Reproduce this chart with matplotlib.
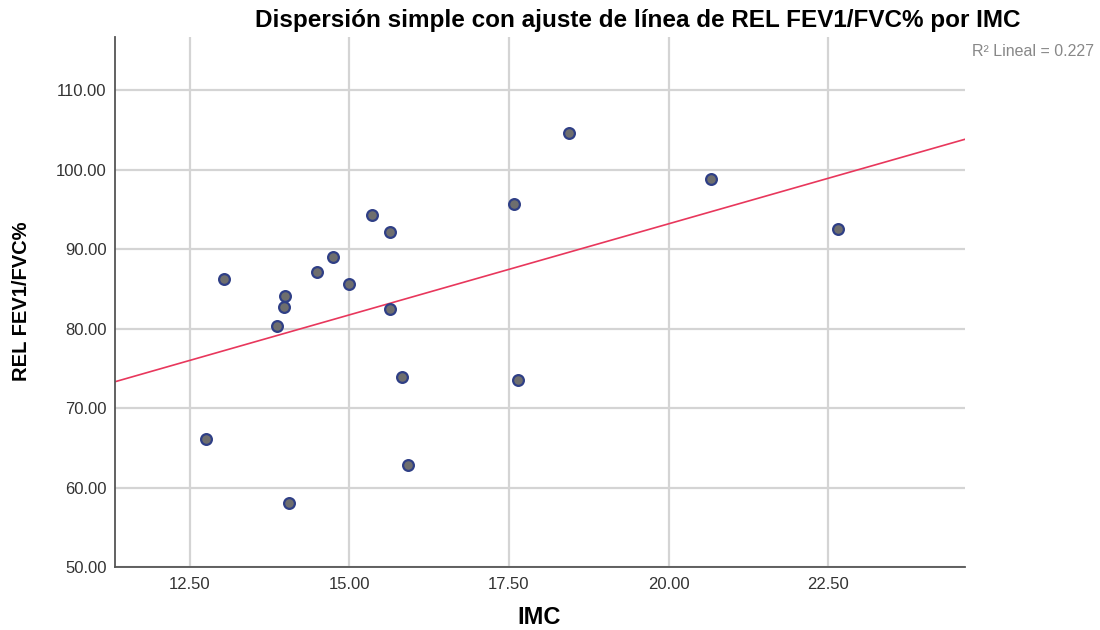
import numpy as np
import matplotlib
matplotlib.use("Agg")
import matplotlib.pyplot as plt

# IMC vs REL FEV1/FVC%
imc = [13.04, 12.76, 14.05, 13.87, 13.99, 13.97, 14.49, 14.74, 15.00, 15.36,
       15.63, 15.64, 15.82, 15.92, 17.58, 17.64, 18.44, 20.66, 22.66]
rel_fev1_fvc = [86.3, 66.1, 58.1, 80.3, 84.1, 82.7, 87.1, 89.0, 85.6, 94.3,
                92.2, 82.5, 73.9, 62.8, 95.7, 73.6, 104.6, 98.8, 92.6]
x_ticks = [12.5, 15.0, 17.5, 20.0, 22.5]
y_ticks = [50, 60, 70, 80, 90, 100, 110]
r2_label = "R\u00b2 Lineal = 0.227"

plt.rcParams["font.family"] = ["Liberation Sans", "DejaVu Sans"]

fig = plt.figure(figsize=(11, 6.3), dpi=100)
ax = fig.add_axes([0.1045, 0.1, 0.7727, 0.841])

xlim = (11.33, 24.64)
ylim = (50, 116.7)

ax.grid(True, color="#d4d4d4", linewidth=1.6, zorder=0)
ax.set_axisbelow(True)

# linear fit across the whole x range
slope, icpt = np.polyfit(imc, rel_fev1_fvc, 1)
xs = np.array(xlim)
ax.plot(xs, slope * xs + icpt, color="#e8375c", linewidth=1.2, zorder=2)

ax.scatter(imc, rel_fev1_fvc, s=60, facecolor="#6e6e6e", edgecolor="#2f3f86",
           linewidth=1.6, zorder=3)

ax.set_xlim(*xlim); ax.set_ylim(*ylim)
ax.set_xticks(x_ticks)
ax.set_xticklabels([f"{v:.2f}" for v in x_ticks])
ax.set_yticks(y_ticks)
ax.set_yticklabels([f"{v:.2f}" for v in y_ticks])
ax.tick_params(length=0, labelsize=12, colors="#333333")
ax.tick_params(axis="y", pad=6)
ax.tick_params(axis="x", pad=7)

for s in ("top", "right"):
    ax.spines[s].set_visible(False)
for s in ("left", "bottom"):
    ax.spines[s].set_color("#555555")
    ax.spines[s].set_linewidth(1.3)

fig.text(539 / 1100, 1 - 618 / 630, "IMC", ha="center", va="center",
         fontsize=17, fontweight="bold")
fig.text(22 / 1100, 1 - 301 / 630, "REL FEV1/FVC%", ha="center", va="center",
         rotation=90, fontsize=14.5, fontweight="bold")

fig.text(638 / 1100, 1 - 20 / 630, "Dispersión simple con ajuste de línea de REL FEV1/FVC% por IMC",
         ha="center", va="center", fontsize=17.5, fontweight="bold")
fig.text(0.995, 1 - 52 / 630, r2_label, ha="right", va="center", fontsize=11.5, color="#888888")

fig.savefig("out.png", dpi=100)
